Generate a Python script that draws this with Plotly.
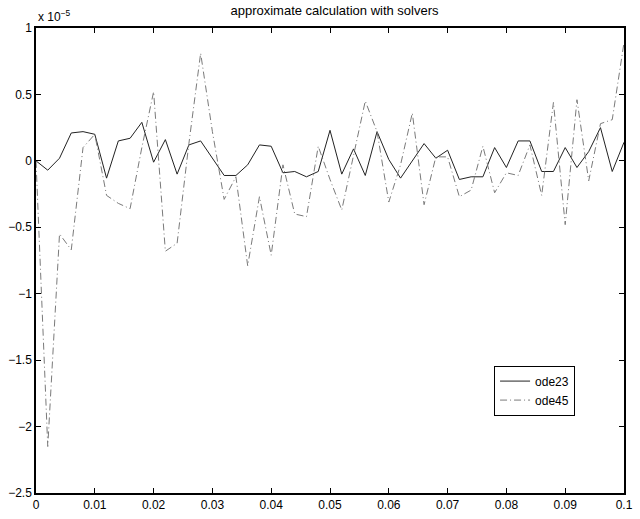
import plotly.graph_objects as go

# time grid (s)
t = [round(i * 0.002, 3) for i in range(51)]

# values in units of 1e-5
ode23 = [0.00, -0.07, 0.02, 0.21, 0.22, 0.20, -0.13, 0.15, 0.17, 0.29,
         -0.01, 0.16, -0.10, 0.12, 0.15, 0.02, -0.11, -0.11, -0.03, 0.12,
         0.11, -0.09, -0.08, -0.12, -0.08, 0.23, -0.10, 0.09, -0.11, 0.22,
         0.01, -0.13, 0.00, 0.13, 0.02, 0.08, -0.14, -0.12, -0.12, 0.10,
         -0.05, 0.15, 0.15, -0.08, -0.08, 0.10, -0.05, 0.07, 0.25, -0.08,
         0.14]
ode45 = [0.00, -2.15, -0.55, -0.67, 0.10, 0.20, -0.26, -0.32, -0.36, 0.10,
         0.52, -0.68, -0.62, 0.13, 0.81, 0.22, -0.29, -0.12, -0.79, -0.27,
         -0.71, -0.03, -0.40, -0.42, 0.11, -0.14, -0.37, 0.05, 0.45, 0.22,
         -0.31, -0.03, 0.36, -0.33, 0.03, 0.03, -0.27, -0.22, 0.11, -0.24,
         -0.09, -0.11, 0.12, -0.26, 0.44, -0.48, 0.46, -0.15, 0.28, 0.31,
         0.89]

xticks = [0, 0.01, 0.02, 0.03, 0.04, 0.05, 0.06, 0.07, 0.08, 0.09, 0.1]
yticks = [1, 0.5, 0, -0.5, -1, -1.5, -2, -2.5]

font = "Liberation Sans, Arial, Helvetica, sans-serif"

fig = go.Figure()
fig.add_trace(go.Scatter(x=t, y=ode23, mode="lines", name="ode23",
                         line=dict(color="#222222", width=1)))
fig.add_trace(go.Scatter(x=t, y=ode45, mode="lines", name="ode45",
                         line=dict(color="#7a7a7a", width=1, dash="7px,3px,1px,3px")))

axis_common = dict(showline=True, linecolor="black", linewidth=1.5, mirror="ticks",
                   ticks="inside", ticklen=5, tickwidth=1, tickcolor="black",
                   showgrid=False, zeroline=False,
                   tickfont=dict(family=font, size=12, color="black"))

fig.update_xaxes(range=[0, 0.1], tickvals=xticks,
                 ticktext=[("%g" % v) for v in xticks], **axis_common)
fig.update_yaxes(range=[-2.5, 1], tickvals=yticks,
                 ticktext=[("%g" % v).replace("-", "\u2212") for v in yticks],
                 **axis_common)

fig.update_layout(
    width=640, height=519,
    margin=dict(l=36, r=7, t=28, b=19),
    paper_bgcolor="white", plot_bgcolor="white",
    font=dict(family=font, size=12, color="black"),
    title=dict(text="approximate calculation with solvers", x=(36 + 633) / 2 / 640,
               xanchor="center", y=1 - 10 / 519, yanchor="middle", yref="container",
               font=dict(family=font, size=13, color="black")),
    legend=dict(x=0.779, y=0.274, xanchor="left", yanchor="top",
                bordercolor="black", borderwidth=1, bgcolor="white",
                font=dict(family=font, size=12, color="black"),
                tracegroupgap=0, itemwidth=30),
    showlegend=True,
)

fig.add_annotation(text="x 10<sup>\u22125</sup>", xref="paper", yref="paper",
                   x=0, y=1, xanchor="left", yanchor="bottom", yshift=2,
                   showarrow=False, font=dict(family=font, size=12, color="black"))

fig.write_html("out.html")
